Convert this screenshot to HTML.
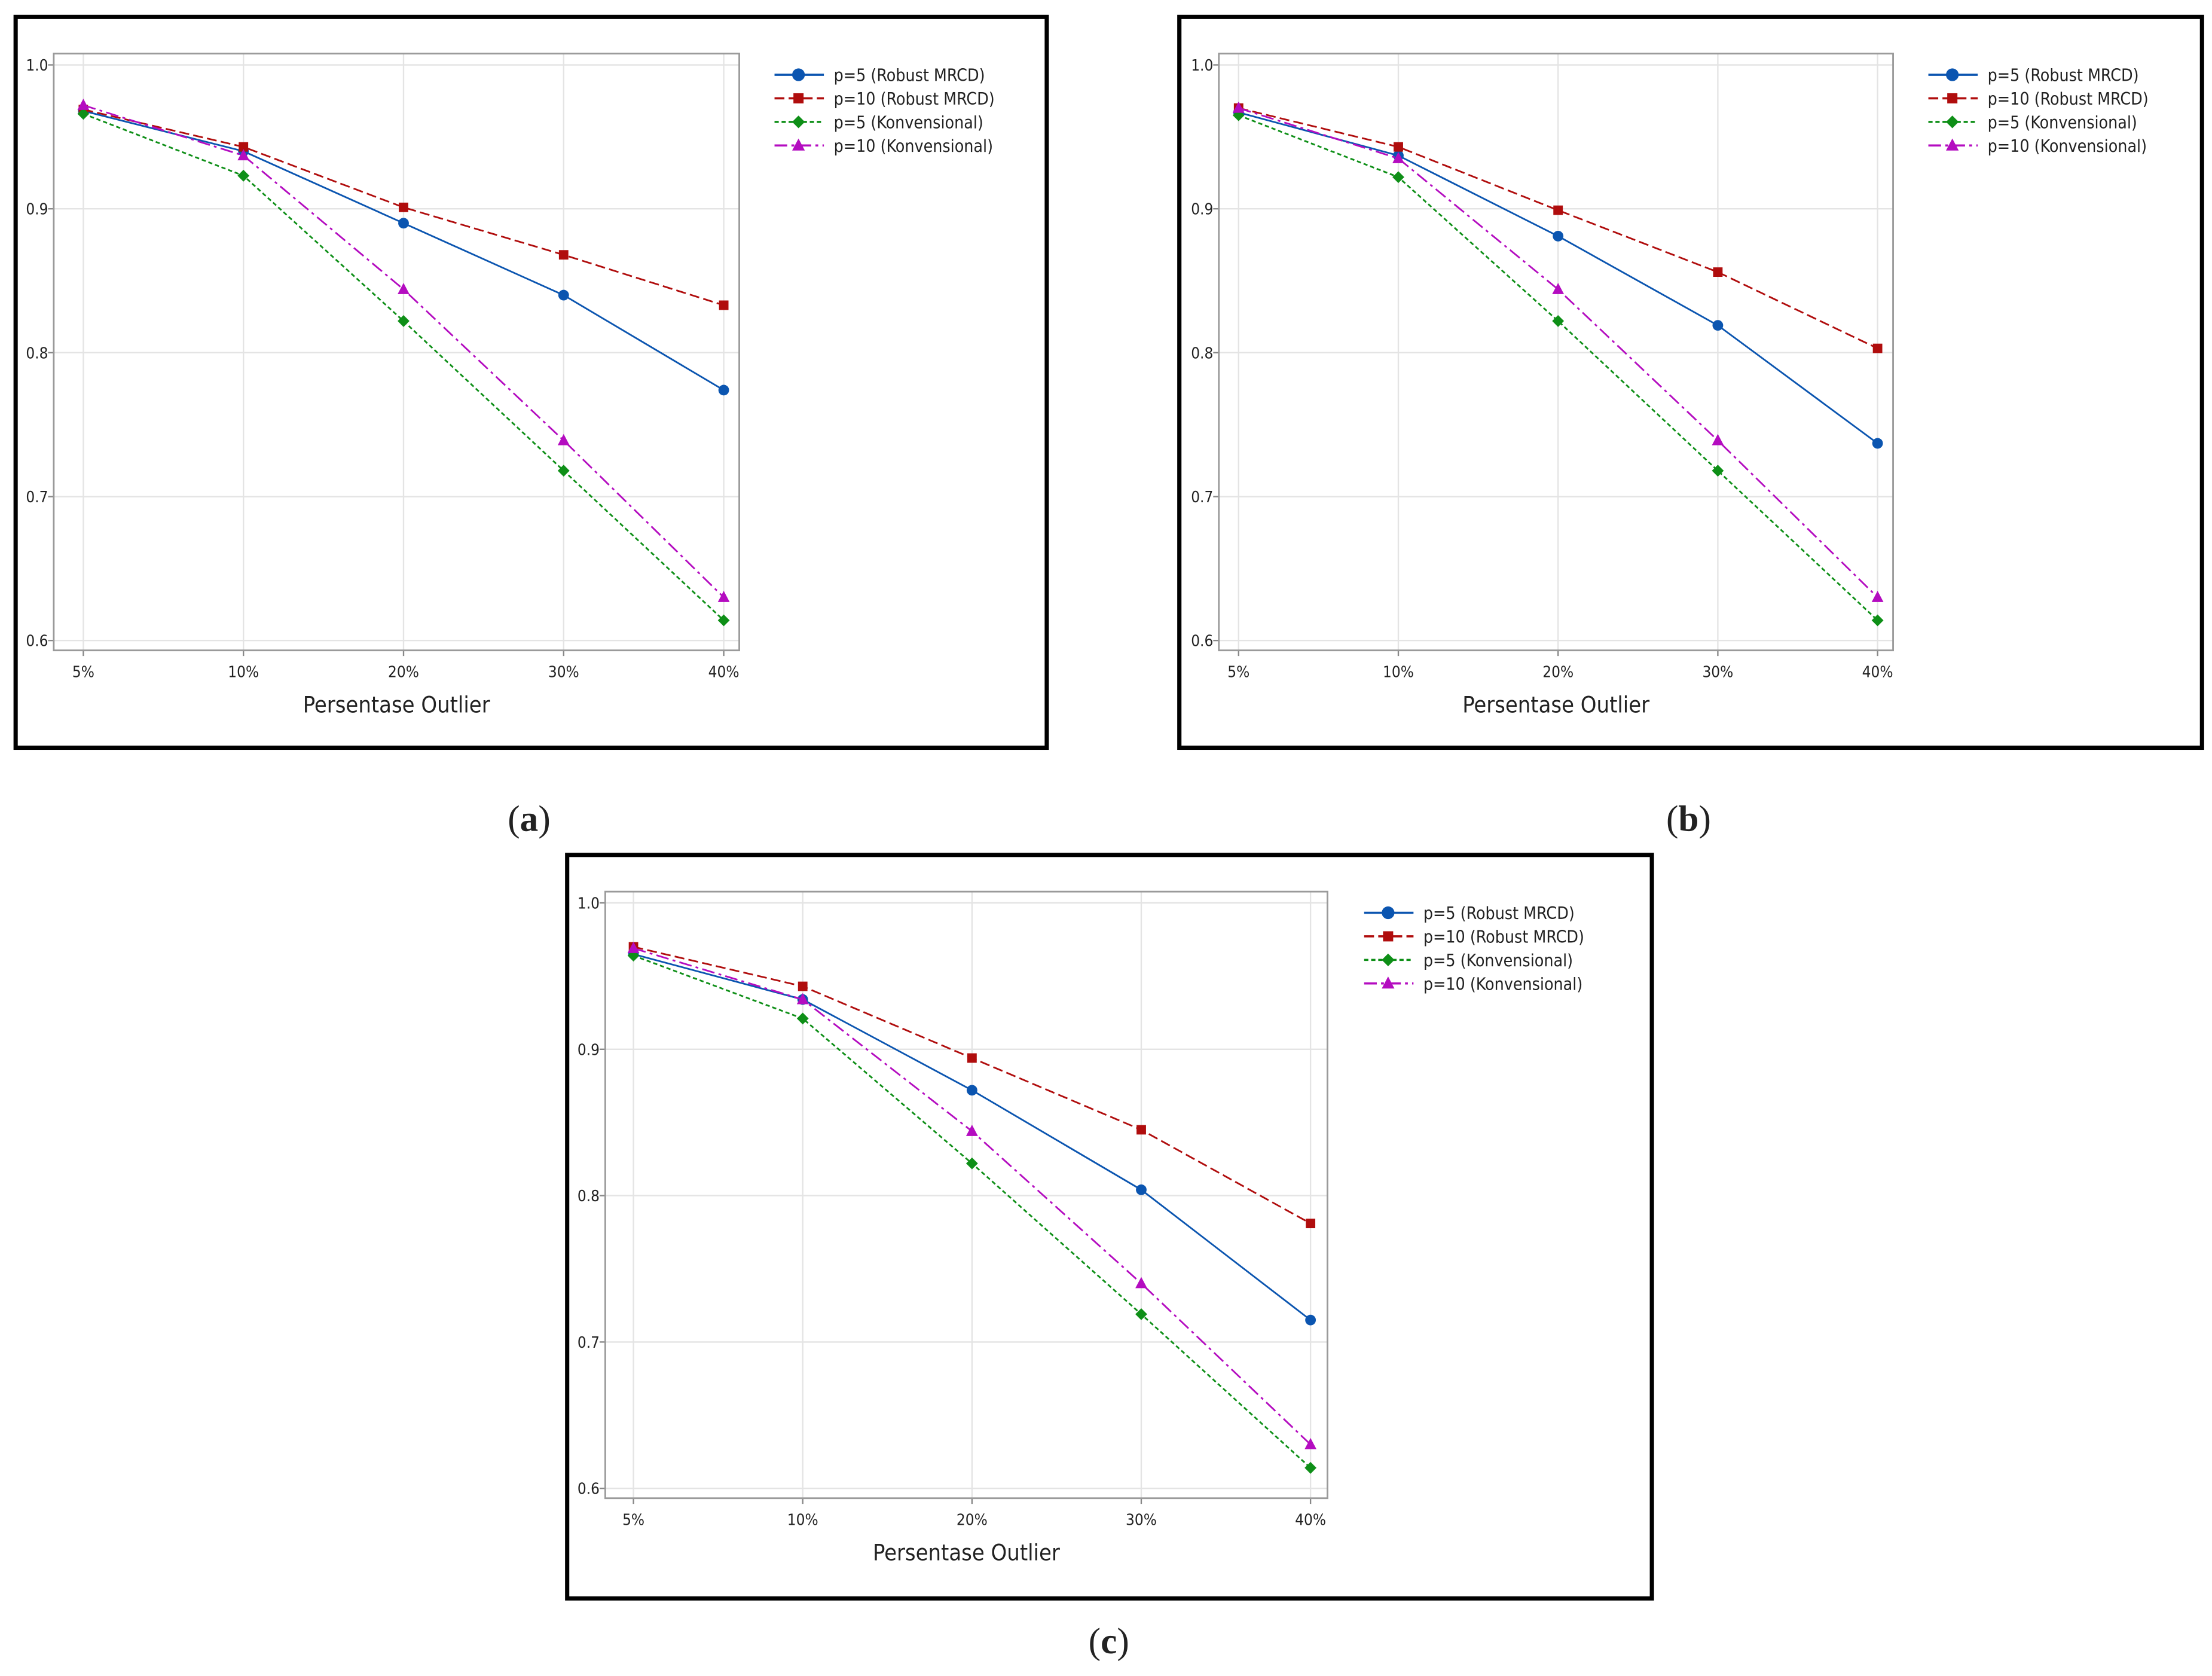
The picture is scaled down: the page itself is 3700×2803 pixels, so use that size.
<!DOCTYPE html>
<html><head><meta charset="utf-8"><style>
html,body{margin:0;padding:0;background:#fff;}
svg{display:block;}
text{font-family:"DejaVu Sans Condensed","Liberation Sans",sans-serif;fill:#222;}
</style></head><body>
<svg id="fig" width="3700" height="2803" viewBox="0 0 1568 1188" xmlns="http://www.w3.org/2000/svg"></svg>
<script>
const categories = ["5%","10%","20%","30%","40%"];
const yTicks = [0.6,0.7,0.8,0.9,1.0];
const yTickLabels = ["0.6","0.7","0.8","0.9","1.0"];
const seriesNames = ["p=5 (Robust MRCD)","p=10 (Robust MRCD)","p=5 (Konvensional)","p=10 (Konvensional)"];
const aBlue = [0.968,0.940,0.890,0.840,0.774];
const aRed = [0.969,0.943,0.901,0.868,0.833];
const aGreen = [0.966,0.923,0.822,0.718,0.614];
const aMagenta = [0.972,0.937,0.844,0.739,0.630];
const bBlue = [0.967,0.937,0.881,0.819,0.737];
const bRed = [0.970,0.943,0.899,0.856,0.803];
const bGreen = [0.965,0.922,0.822,0.718,0.614];
const bMagenta = [0.970,0.935,0.844,0.739,0.630];
const cBlue = [0.965,0.934,0.872,0.804,0.715];
const cRed = [0.970,0.943,0.894,0.845,0.781];
const cGreen = [0.964,0.921,0.822,0.719,0.614];
const cMagenta = [0.969,0.934,0.844,0.740,0.630];

const NS="http://www.w3.org/2000/svg";
const svg=document.getElementById('fig');
function mk(tag,attrs,parent){const e=document.createElementNS(NS,tag);for(const k in attrs)e.setAttribute(k,attrs[k]);(parent||svg).appendChild(e);return e;}

const styles=[
 {color:"#0b55b0",dash:"",marker:"circle"},
 {color:"#b00d0d",dash:"7,3",marker:"square"},
 {color:"#0e8f17",dash:"3,2",marker:"diamond"},
 {color:"#b40cc0",dash:"9,3,2,3",marker:"triangle"}];

function marker(g,type,x,y,color,s){
  let e;
  if(type==="circle") e=mk('circle',{cx:x,cy:y,r:s*0.9,fill:color},g);
  else if(type==="square") e=mk('rect',{x:x-s*0.8,y:y-s*0.8,width:s*1.6,height:s*1.6,fill:color},g);
  else if(type==="diamond") e=mk('polygon',{points:`${x},${y-s} ${x+s},${y} ${x},${y+s} ${x-s},${y}`,fill:color},g);
  else e=mk('polygon',{points:`${x},${y-s*1.1} ${x+s},${y+s*0.8} ${x-s},${y+s*0.8}`,fill:color},g);
  return e;
}

function panel(cfg){
  const g=mk('g',{});
  
  
  const fr=mk('rect',{x:cfg.fx,y:cfg.fy,width:cfg.fw,height:cfg.fh,fill:"none",stroke:"#000","stroke-width":3},g);
  
  
  const X=i=>cfg.x0+(cfg.x1-cfg.x0)*i/(categories.length-1);
  const Y=v=>cfg.y1+(cfg.y0-cfg.y1)*(v-0.6)/0.4;
  // grid
  yTicks.forEach((t,i)=>{
    const l=mk('line',{x1:cfg.px0,x2:cfg.px1,y1:Y(t),y2:Y(t),stroke:"#e4e4e4","stroke-width":1},g);
    
    
    mk('line',{x1:cfg.px0-4,x2:cfg.px0,y1:Y(t),y2:Y(t),stroke:"#888","stroke-width":1},g);
    const tx=mk('text',{x:cfg.px0-4,y:Y(t)+4,"text-anchor":"end","font-size":11},g);
    tx.textContent=yTickLabels[i];
    
    
  });
  categories.forEach((c,i)=>{
    const l=mk('line',{x1:X(i),x2:X(i),y1:cfg.py0,y2:cfg.py1,stroke:"#e4e4e4","stroke-width":1},g);
    
    
    mk('line',{x1:X(i),x2:X(i),y1:cfg.py1,y2:cfg.py1+4,stroke:"#888","stroke-width":1},g);
    const tx=mk('text',{x:X(i),y:cfg.py1+19,"text-anchor":"middle","font-size":11},g);
    tx.textContent=c;
    
    
  });
  const pb=mk('rect',{x:cfg.px0,y:cfg.py0,width:cfg.px1-cfg.px0,height:cfg.py1-cfg.py0,fill:"none",stroke:"#9a9a9a","stroke-width":1.2},g);
  
  
  const xt=mk('text',{x:(cfg.px0+cfg.px1)/2,y:cfg.py1+44,"text-anchor":"middle","font-size":16,fill:"#333"},g);
  xt.textContent="Persentase Outlier";
  
  
  cfg.series.forEach((vals,si)=>{
    const st=styles[si];
    const pts=vals.map((v,i)=>X(i)+","+Y(v)).join(" ");
    const pl=mk('polyline',{points:pts,fill:"none",stroke:st.color,"stroke-width":1.2,"stroke-dasharray":st.dash},g);
    
    
    vals.forEach((v,i)=>{
      const m=marker(g,st.marker,X(i),Y(v),st.color,4.2);
      
      
    });
    // legend
    const ly=cfg.ly+si*16.7;
    const ll=mk('line',{x1:cfg.lx,x2:cfg.lx+35,y1:ly,y2:ly,stroke:st.color,"stroke-width":1.5,"stroke-dasharray":st.dash},g);
    
    
    marker(g,st.marker,cfg.lx+17,ly,st.color,si===0?5:4.5);
    const lt=mk('text',{x:cfg.lx+42,y:ly+4.5,"font-size":12,fill:"#333"},g);
    lt.textContent=seriesNames[si];
    
    
  });
  const cap=mk('text',{x:cfg.capx,y:cfg.capy,"text-anchor":"middle","font-size":26,style:"font-family:'Liberation Serif',serif"},g);
  cap.innerHTML=cfg.cap;
  
  
}

panel({name:"panel-a",fx:11,fy:12,fw:731,fh:518,px0:38,px1:524,py0:38,py1:461,x0:59,x1:513,y0:46,y1:454,lx:549,ly:53,series:[aBlue,aRed,aGreen,aMagenta],cap:"(<tspan font-weight='bold'>a</tspan>)",capx:375,capy:589});
panel({name:"panel-b",fx:836,fy:12,fw:725,fh:518,px0:864,px1:1342,py0:38,py1:461,x0:878,x1:1331,y0:46,y1:454,lx:1367,ly:53,series:[bBlue,bRed,bGreen,bMagenta],cap:"(<tspan font-weight='bold'>b</tspan>)",capx:1197,capy:589});
panel({name:"panel-c",fx:402,fy:606,fw:769,fh:527,px0:429,px1:941,py0:632,py1:1062,x0:449,x1:929,y0:640,y1:1055,lx:967,ly:647,series:[cBlue,cRed,cGreen,cMagenta],cap:"(<tspan font-weight='bold'>c</tspan>)",capx:786,capy:1172});
</script>
</body></html>
